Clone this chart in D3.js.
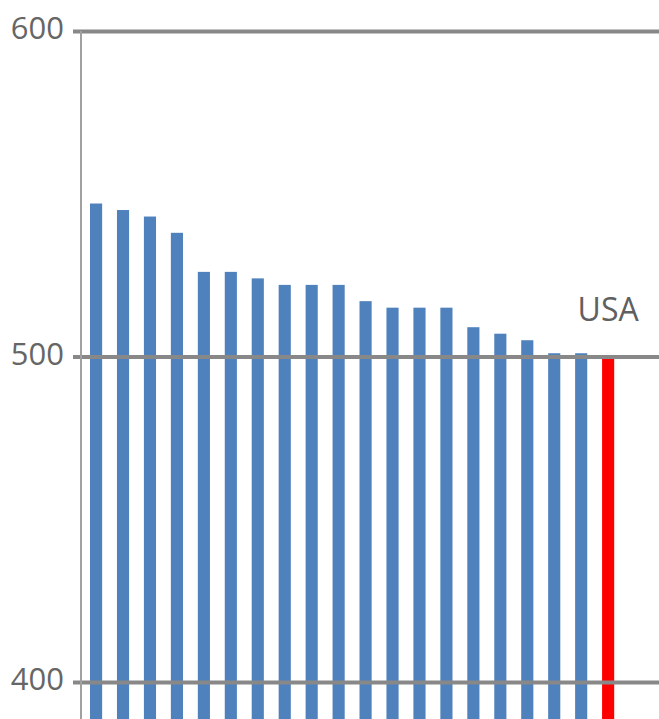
<!DOCTYPE html>
<html>
<head>
<meta charset="utf-8">
<script src="https://cdn.jsdelivr.net/npm/d3@7"></script>
<style>
  html, body { margin: 0; padding: 0; background: #fff; overflow: hidden; }
  svg { display: block; }
  text { font-family: "Open Sans", "Noto Sans", sans-serif; }
</style>
</head>
<body>
<svg id="chart" width="659" height="719"></svg>
<script>
// Mean scores, sorted high to low; the last bar is the USA
const categories = [
  "Country 1", "Country 2", "Country 3", "Country 4", "Country 5",
  "Country 6", "Country 7", "Country 8", "Country 9", "Country 10",
  "Country 11", "Country 12", "Country 13", "Country 14", "Country 15",
  "Country 16", "Country 17", "Country 18", "Country 19", "USA"
];
const scores = [547, 545, 543, 538, 526, 526, 524, 522, 522, 522,
                517, 515, 515, 515, 509, 507, 505, 501, 501, 500];
const tickValues = [400, 500, 600];
const highlight = "USA";

const svg = d3.select("#chart");
const W = 659, H = 719;

const y = d3.scaleLinear().domain([400, 600]).range([682, 31]);
const x = d3.scaleBand()
  .domain(categories)
  .range([82.6, 621.6])
  .paddingInner(0.55)
  .paddingOuter(0.275);

const axisX = 81;
const baseline = 380; // bars run off the bottom of the view

// bars
svg.append("g")
  .selectAll("rect")
  .data(categories.map((c, i) => ({ c, v: scores[i] })))
  .join("rect")
  .attr("x", d => x(d.c))
  .attr("width", x.bandwidth())
  .attr("y", d => y(d.v))
  .attr("height", d => y(baseline) - y(d.v))
  .attr("fill", d => d.c === highlight ? "#ff0000" : "#4f81bd");

// y axis: gridlines drawn over the bars, labels on the left
const yAxis = d3.axisLeft(y)
  .tickValues(tickValues)
  .tickSize(-(W - axisX))
  .tickPadding(10)
  .tickFormat(d3.format("d"));

const g = svg.append("g")
  .attr("transform", `translate(${axisX},0)`)
  .call(yAxis);

g.select(".domain").remove();
g.selectAll(".tick line")
  .attr("x1", -8)
  .attr("stroke", "#888")
  .attr("stroke-width", 4);
g.selectAll(".tick text")
  .attr("fill", "#666")
  .attr("font-size", 31)
  .attr("x", -17)
  .attr("dy", "0.25em");

// vertical axis line
svg.append("line")
  .attr("x1", axisX).attr("x2", axisX)
  .attr("y1", y(600)).attr("y2", H)
  .attr("stroke", "#a0a0a0")
  .attr("stroke-width", 2);

// label above the highlighted bar
svg.append("text")
  .attr("x", x(highlight) + x.bandwidth() / 2)
  .attr("y", 321)
  .attr("text-anchor", "middle")
  .attr("fill", "#606060")
  .attr("font-size", 32)
  .text(highlight);
</script>
</body>
</html>
